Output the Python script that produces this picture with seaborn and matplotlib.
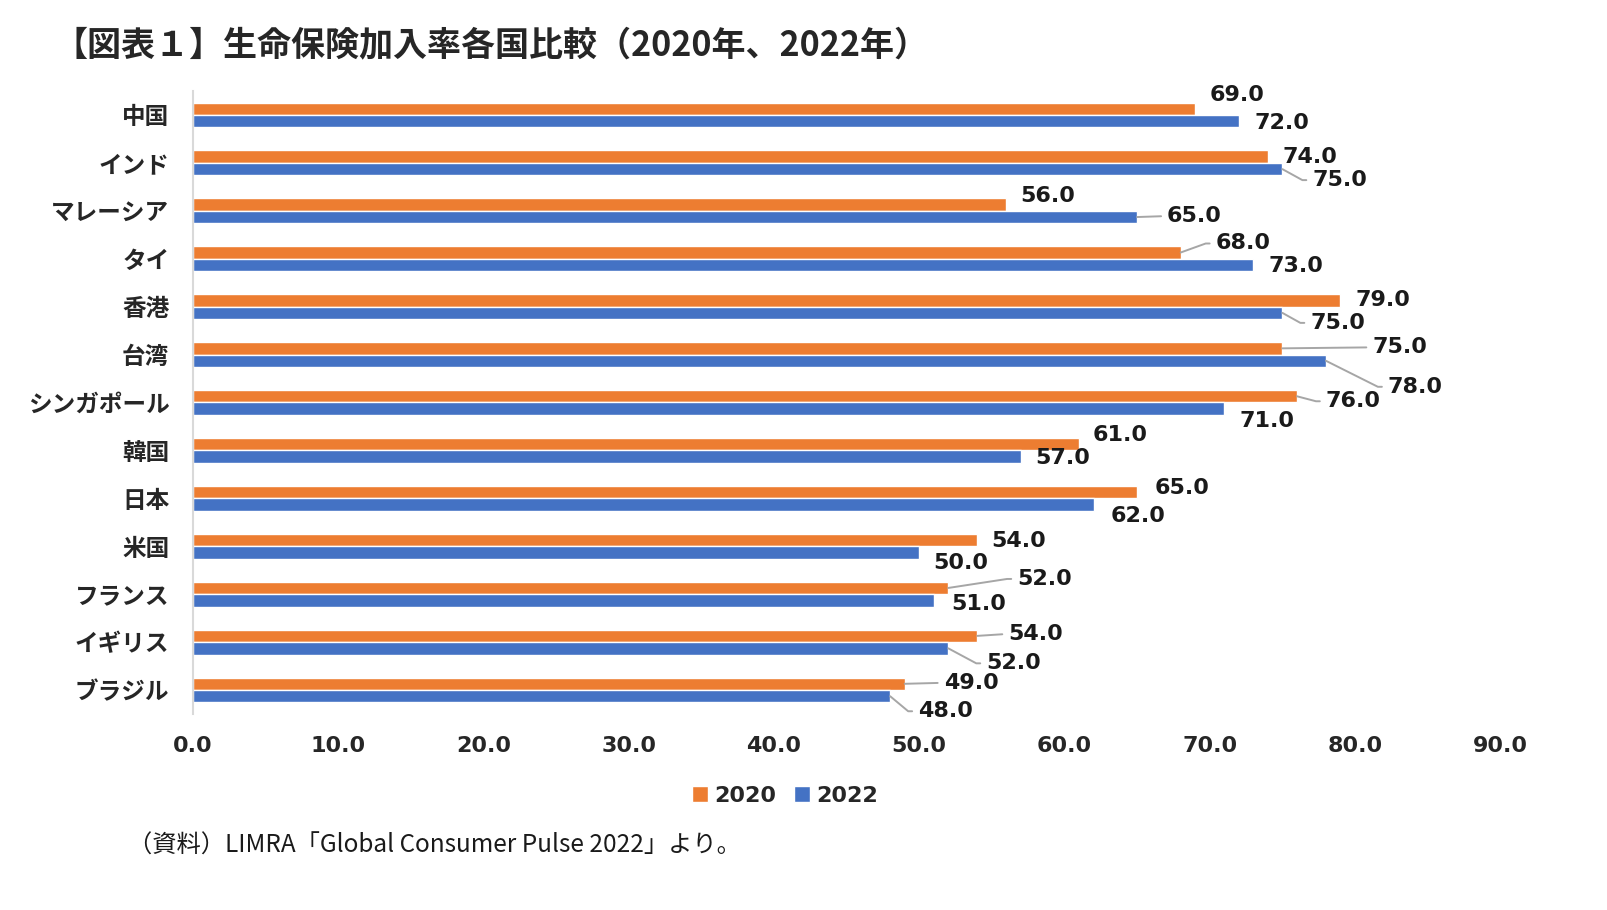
import math
import matplotlib
matplotlib.use("Agg")
import matplotlib.pyplot as plt
import pandas as pd
import seaborn as sns

# ─── Data ───────────────────────────────
countries = ["中国", "インド", "マレーシア", "タイ", "香港", "台湾", "シンガポール",
             "韓国", "日本", "米国", "フランス", "イギリス", "ブラジル"]
rate_2020 = [69.0, 74.0, 56.0, 68.0, 79.0, 75.0, 76.0, 61.0, 65.0, 54.0, 52.0, 54.0, 49.0]
rate_2022 = [72.0, 75.0, 65.0, 73.0, 75.0, 78.0, 71.0, 57.0, 62.0, 50.0, 51.0, 52.0, 48.0]
years = ["2020", "2022"]
x_ticks = [0, 10, 20, 30, 40, 50, 60, 70, 80, 90]

# label offsets in pixels (dx, dy downward) from bar end
offsets_2020 = [(14, -14), (15, 0), (14, -9), (35, -9), (15, 0), (90, -1), (29, 5),
                (14, -9), (18, -4), (14, 1), (69, -9), (31, -2), (39, -1)]
offsets_2022 = [(16, 2), (30, 11), (30, -1), (15, 1), (28, 10), (62, 26), (15, 12),
                (14, 1), (17, 11), (14, 11), (17, 4), (38, 15), (28, 15)]

ORANGE = "#ED7D31"
BLUE = "#4472C4"

df = pd.DataFrame({
    "country": countries * 2,
    "rate": rate_2020 + rate_2022,
    "year": [years[0]] * len(countries) + [years[1]] * len(countries),
})

sns.set_theme(style="white")
plt.rcParams["font.family"] = ["Noto Sans CJK JP", "DejaVu Sans"]

fig = plt.figure(figsize=(16.08, 9.1), dpi=100)
ax = fig.add_axes([0.12, 0.2154, 0.813, 0.6846])

sns.barplot(data=df, x="rate", y="country", hue="year", hue_order=years,
            palette=[ORANGE, BLUE], orient="h", width=0.52, saturation=1,
            ax=ax, legend=True)

ax.set_xlim(0, 90)
ax.set_xticks(x_ticks)
ax.set_xticklabels([f"{t:.1f}" for t in x_ticks], fontsize=16, fontweight="bold",
                   family="DejaVu Sans")
ax.tick_params(axis="x", length=0, pad=16)
ax.tick_params(axis="y", length=0, pad=17)
for lab in ax.get_yticklabels():
    lab.set_fontsize(17)
    lab.set_fontweight("bold")
ax.set_xlabel("")
ax.set_ylabel("")
for side in ["top", "right", "bottom"]:
    ax.spines[side].set_visible(False)
ax.spines["left"].set_color("#d9d9d9")
ax.spines["left"].set_linewidth(1.5)

# data labels with leader lines
for container, values, offs in zip(ax.containers, [rate_2020, rate_2022],
                                   [offsets_2020, offsets_2022]):
    for bar, val, (dx, dy) in zip(container, values, offs):
        x_end = bar.get_width()
        y_mid = bar.get_y() + bar.get_height() / 2
        arrow = None
        if dx > 25:
            arrow = dict(arrowstyle="-", color="#a6a6a6", lw=1.4,
                         shrinkA=2, shrinkB=0, relpos=(0, 0.5))
            if abs(dy) >= 4:
                ang = math.degrees(math.atan2(-dy, dx - 10))
                arrow["connectionstyle"] = f"angle,angleA=0,angleB={ang:.1f},rad=0"
        ax.annotate(f"{val:.1f}", xy=(x_end, y_mid), xytext=(dx, -dy),
                    textcoords="offset pixels", ha="left", va="center",
                    fontsize=16, fontweight="bold", family="DejaVu Sans",
                    color="#1a1a1a", arrowprops=arrow)

# legend at bottom
leg = ax.legend(loc="center", bbox_to_anchor=(785 / 1608, 1 - 796 / 910),
                bbox_transform=fig.transFigure, ncol=2, frameon=False,
                handlelength=0.7, handleheight=0.7, handletextpad=0.3,
                columnspacing=0.8, fontsize=16)
for txt in leg.get_texts():
    txt.set_fontweight("bold")
    txt.set_family("DejaVu Sans")

fig.text(53 / 1608, 1 - 45 / 910, "【図表１】生命保険加入率各国比較（2020年、2022年）",
         fontsize=24.5, fontweight="bold", ha="left", va="center")
fig.text(128 / 1608, 1 - 846 / 910, "（資料）LIMRA「Global Consumer Pulse 2022」より。",
         fontsize=17.5, ha="left", va="center", color="#1a1a1a")

fig.savefig("out.png", dpi=100)
